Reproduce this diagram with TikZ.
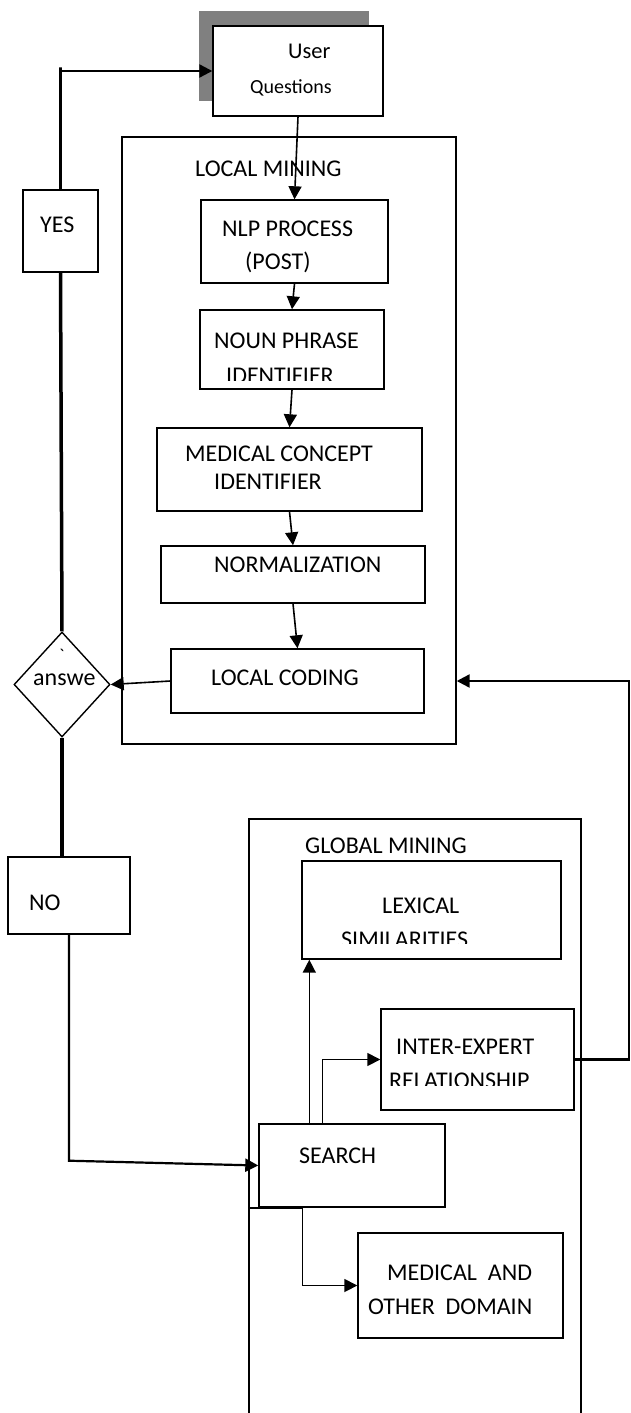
\documentclass[tikz,border=0pt]{standalone}
\usepackage{fontspec}
\setmainfont{Carlito}
\newfontfamily\rawfont{Carlito}[Ligatures=TeXOff]
\usetikzlibrary{arrows.meta,shapes.geometric,shadows}

\begin{document}
\begin{tikzpicture}[x=1pt,y=-1pt,
  box/.style={draw, line width=1.4pt, inner sep=0pt},
  txt/.style={anchor=base west, inner sep=0pt, font=\fontsize{24}{28}\selectfont},
  arr/.style={line width=1.6pt, -{Triangle[length=13pt,width=13pt]}},
  heavy/.style={line width=3.5pt}]
\useasboundingbox (0,0) rectangle (630,1413);

% containers
\node[box, minimum width=334pt, minimum height=607pt] (local) at (289,440.5) {};
\node[box, minimum width=332pt, minimum height=621pt] (global) at (415,1129.5) {};

\node[box, fill=white, minimum width=170pt, minimum height=90pt,
  drop shadow={shadow xshift=-14pt, shadow yshift=15pt, fill=gray, opacity=1}] (user) at (298,71) {};
\node[box, minimum width=75pt, minimum height=82pt] (yes) at (60.5,231) {};
\node[box, minimum width=187pt, minimum height=83pt] (nlp) at (294.5,241.5) {};
\node[box, minimum width=184pt, minimum height=79pt] (noun) at (292,349.5) {};
\node[box, minimum width=265pt, minimum height=83pt] (medcon) at (289.5,469.5) {};
\node[box, minimum width=264pt, minimum height=57pt] (norm) at (293,574.5) {};
\node[box, minimum width=253pt, minimum height=64pt] (coding) at (297.5,681) {};
\node[box, diamond, minimum width=96pt, minimum height=105pt] (ans) at (62,684.5) {};
\node[box, minimum width=122pt, minimum height=77pt] (no) at (69,895.5) {};
\node[box, minimum width=259pt, minimum height=98pt] (lexical) at (431.5,910) {};
\node[box, minimum width=193pt, minimum height=101pt] (inter) at (477.5,1059.5) {};
\node[box, minimum width=186pt, minimum height=83pt] (search) at (352,1165.5) {};
\node[box, minimum width=205pt, minimum height=105pt] (medother) at (460.5,1285.5) {};

% texts
\node[txt, font=\fontsize{22.5}{26}\selectfont] (tuser) at (288,59) {User};
\node[txt, font=\fontsize{20}{24}\selectfont] (tquest) at (250,93) {Questions};
\node[txt] (tlocal) at (195,176) {LOCAL MINING};
\node[txt] (tyes) at (40,232) {YES};
\node[txt] (tnlp) at (222,236) {NLP PROCESS};
\node[txt] (tpost) at (245,269) {(POST)};
\node[txt] (tnoun) at (214,348) {NOUN PHRASE};
\begin{scope}
\clip (0,0) rectangle (630,380);
\node[txt] (tnounid) at (226,383.5) {IDENTIFIER};
\end{scope}
\node[txt] (tmedcon) at (185,461) {MEDICAL CONCEPT};
\node[txt] (tmedconid) at (214,489) {IDENTIFIER};
\node[txt] (tnorm) at (214,572) {NORMALIZATION};
\node[txt] (tcoding) at (211,685) {LOCAL CODING};
\node[txt] (tans) at (33,685) {answe};
\node[txt, font=\fontsize{18}{20}\rawfont] (tmark) at (59,661) {`};
\node[txt] (tglobal) at (305,853) {GLOBAL MINING};
\node[txt] (tlex) at (382,913) {LEXICAL};
\begin{scope}
\clip (0,0) rectangle (630,943);
\node[txt] (tsim) at (341,947.5) {SIMILARITIES};
\end{scope}
\node[txt] (tinter) at (396,1054) {INTER-EXPERT};
\begin{scope}
\clip (0,0) rectangle (630,1085);
\node[txt] (trel) at (389,1088.5) {RELATIONSHIP};
\end{scope}
\node[txt] (tno) at (29,910) {NO};
\node[txt] (tsearch) at (299,1163) {SEARCH};
\node[txt] (tmedand) at (387,1280) {MEDICAL\ \ AND};
\node[txt] (tother) at (368,1314) {OTHER\ \ DOMAIN};

% connectors
\draw[arr] (user.south) -- (nlp.north);
\draw[arr] (nlp.south) -- (noun.north);
\draw[arr] (noun.south) -- (medcon.north);
\draw[arr] (medcon.south) -- (norm.north);
\draw[arr] (norm.south) -- (coding.north);
\draw[arr] (coding.west) -- (ans.east);
\draw[arr, line width=2.2pt] (yes.north) -- ++(0,-122) |- (user.west);
\draw[heavy] (yes.south) -- (ans.north);
\draw[line width=4.5pt] (ans.south) -- (ans.south |- no.north);
\draw[arr, line width=2.2pt] (no.south) -- ++(0,226) -- (search.west);
\draw[arr] ([xshift=51pt]search.north west) -- ([xshift=51pt]search.north west |- lexical.south);
\draw[arr] ([xshift=64pt]search.north west) |- (inter.west);
\draw[arr] (global.west |- search.south) -- ++(54,0) |- (medother.west);
\draw[arr, line width=2.4pt] (inter.east) -- ++(54,0) |- (local.east |- coding.east);

\end{tikzpicture}
\end{document}
